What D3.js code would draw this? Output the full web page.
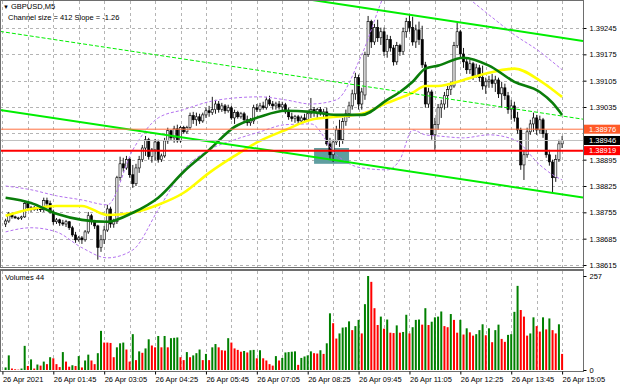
<!DOCTYPE html>
<html>
<head>
<meta charset="utf-8">
<script src="https://cdn.jsdelivr.net/npm/d3@7"></script>
<style>
  body { margin: 0; background: #fff; }
  svg text { font-family: "Liberation Sans", Arial, sans-serif; font-size: 7.5px; fill: #000; }
</style>
</head>
<body>
<svg id="chart" width="620" height="388"></svg>
<script>
// GBPUSD M5, 26 Apr 2021, first bar 00:30
var startMinute = 30, barMinutes = 5;

var open = [1.38724,1.38732,1.38751,1.38743,1.38740,1.38740,1.38743,1.38778,1.38767,1.38762,
  1.38767,1.38764,1.38762,1.38786,1.38778,1.38756,1.38730,1.38735,1.38727,1.38724,
  1.38730,1.38714,1.38695,1.38682,1.38687,1.38682,1.38703,1.38746,1.38730,1.38719,
  1.38661,1.38682,1.38708,1.38764,1.38724,1.38730,1.38847,1.38884,1.38873,1.38895,
  1.38855,1.38831,1.38873,1.38895,1.38926,1.38948,1.38903,1.38921,1.38942,1.38895,
  1.38905,1.38945,1.38972,1.38953,1.38977,1.38945,1.38980,1.38969,1.38980,1.39012,
  1.39001,1.39009,1.38998,1.39014,1.39025,1.39020,1.39028,1.39043,1.39028,1.39038,
  1.39025,1.39033,1.39006,1.39020,1.39009,1.39017,1.39001,1.38993,1.38998,1.39033,
  1.39028,1.39038,1.39033,1.39054,1.39043,1.39038,1.39043,1.39035,1.39041,1.39022,
  1.39009,1.39004,1.39009,1.38998,1.39006,1.39001,1.39017,1.39028,1.39020,1.39028,
  1.39017,1.39022,1.38937,1.38908,1.38942,1.38974,1.38948,1.38996,1.39017,1.39038,
  1.39070,1.39113,1.39043,1.39067,1.39174,1.39262,1.39208,1.39246,1.39219,1.39235,
  1.39182,1.39214,1.39192,1.39155,1.39198,1.39182,1.39235,1.39262,1.39246,1.39208,
  1.39240,1.39214,1.39147,1.39043,1.39075,1.38961,1.38988,1.39033,1.39043,1.39065,
  1.39081,1.39091,1.39198,1.39235,1.39176,1.39155,1.39134,1.39150,1.39118,1.39139,
  1.39113,1.39091,1.39102,1.39107,1.39097,1.39107,1.39070,1.39086,1.39065,1.39028,
  1.39038,1.39006,1.38974,1.38881,1.38908,1.38969,1.38990,1.39006,1.38974,1.39001,
  1.38964,1.38908,1.38889,1.38847,1.38895,1.38937];

var high = [1.38738,1.38756,1.38754,1.38746,1.38743,1.38746,1.38786,1.38783,1.38772,1.38772,
  1.38770,1.38767,1.38794,1.38794,1.38786,1.38762,1.38740,1.38738,1.38735,1.38735,
  1.38732,1.38719,1.38703,1.38692,1.38692,1.38708,1.38756,1.38751,1.38735,1.38722,
  1.38695,1.38719,1.38775,1.38770,1.38738,1.38852,1.38903,1.38900,1.38905,1.38900,
  1.38881,1.38884,1.38905,1.38934,1.38958,1.38953,1.38926,1.38950,1.38948,1.38911,
  1.38953,1.38980,1.38974,1.38985,1.38988,1.38985,1.38985,1.38985,1.39020,1.39022,
  1.39020,1.39017,1.39020,1.39033,1.39038,1.39062,1.39054,1.39051,1.39046,1.39043,
  1.39041,1.39038,1.39028,1.39025,1.39022,1.39022,1.39012,1.39006,1.39041,1.39043,
  1.39046,1.39049,1.39062,1.39065,1.39051,1.39049,1.39051,1.39049,1.39046,1.39033,
  1.39020,1.39014,1.39014,1.39012,1.39017,1.39022,1.39059,1.39035,1.39033,1.39035,
  1.39030,1.39033,1.38953,1.38948,1.38985,1.39001,1.39006,1.39028,1.39049,1.39081,
  1.39126,1.39121,1.39086,1.39182,1.39277,1.39267,1.39256,1.39267,1.39246,1.39246,
  1.39227,1.39224,1.39200,1.39208,1.39203,1.39246,1.39272,1.39280,1.39275,1.39254,
  1.39262,1.39251,1.39155,1.39086,1.39081,1.39006,1.39043,1.39054,1.39075,1.39091,
  1.39102,1.39208,1.39259,1.39240,1.39192,1.39166,1.39160,1.39155,1.39150,1.39147,
  1.39145,1.39113,1.39118,1.39123,1.39118,1.39113,1.39102,1.39097,1.39075,1.39054,
  1.39049,1.39022,1.38980,1.38921,1.38980,1.39001,1.39020,1.39014,1.39012,1.39006,
  1.38974,1.38921,1.38895,1.38908,1.38948,1.38958];

var low = [1.38716,1.38727,1.38738,1.38738,1.38735,1.38735,1.38740,1.38759,1.38756,1.38759,
  1.38759,1.38756,1.38756,1.38767,1.38751,1.38722,1.38724,1.38719,1.38719,1.38716,
  1.38708,1.38690,1.38674,1.38677,1.38671,1.38677,1.38698,1.38722,1.38711,1.38629,
  1.38650,1.38671,1.38703,1.38714,1.38714,1.38724,1.38839,1.38863,1.38868,1.38847,
  1.38820,1.38825,1.38860,1.38889,1.38905,1.38895,1.38887,1.38892,1.38887,1.38889,
  1.38900,1.38937,1.38945,1.38940,1.38940,1.38940,1.38964,1.38964,1.38974,1.38990,
  1.38985,1.38990,1.38993,1.39006,1.39009,1.39014,1.39017,1.39020,1.39022,1.39017,
  1.39020,1.39001,1.38990,1.39004,1.39004,1.38996,1.38985,1.38985,1.38990,1.39022,
  1.39022,1.39028,1.39028,1.39038,1.39028,1.39028,1.39028,1.39025,1.39017,1.39001,
  1.38996,1.38993,1.38990,1.38990,1.38993,1.38996,1.39006,1.39009,1.39006,1.39012,
  1.39006,1.38932,1.38895,1.38889,1.38934,1.38929,1.38937,1.38985,1.39006,1.39028,
  1.39054,1.39028,1.39028,1.39054,1.39168,1.39192,1.39200,1.39208,1.39200,1.39171,
  1.39166,1.39182,1.39145,1.39147,1.39171,1.39174,1.39219,1.39235,1.39198,1.39192,
  1.39200,1.39139,1.39033,1.39033,1.38948,1.38921,1.38974,1.39006,1.39028,1.39033,
  1.39067,1.39086,1.39192,1.39166,1.39139,1.39123,1.39123,1.39107,1.39113,1.39102,
  1.39081,1.39070,1.39086,1.39086,1.39075,1.39059,1.39033,1.39054,1.39017,1.39001,
  1.38996,1.38964,1.38868,1.38841,1.38900,1.38961,1.38969,1.38961,1.38964,1.38953,
  1.38900,1.38879,1.38809,1.38836,1.38889,1.38926];

var close = [1.38732,1.38751,1.38743,1.38740,1.38740,1.38743,1.38778,1.38767,1.38762,1.38767,
  1.38764,1.38762,1.38786,1.38778,1.38756,1.38730,1.38735,1.38727,1.38724,1.38730,
  1.38714,1.38695,1.38682,1.38687,1.38682,1.38703,1.38746,1.38730,1.38719,1.38661,
  1.38682,1.38708,1.38764,1.38724,1.38730,1.38847,1.38884,1.38873,1.38895,1.38855,
  1.38831,1.38873,1.38895,1.38926,1.38948,1.38903,1.38921,1.38942,1.38895,1.38905,
  1.38945,1.38972,1.38953,1.38977,1.38945,1.38980,1.38969,1.38980,1.39012,1.39001,
  1.39009,1.38998,1.39014,1.39025,1.39020,1.39028,1.39043,1.39028,1.39038,1.39025,
  1.39033,1.39006,1.39020,1.39009,1.39017,1.39001,1.38993,1.38998,1.39033,1.39028,
  1.39038,1.39033,1.39054,1.39043,1.39038,1.39043,1.39035,1.39041,1.39022,1.39009,
  1.39004,1.39009,1.38998,1.39006,1.39001,1.39017,1.39028,1.39020,1.39028,1.39017,
  1.39022,1.38937,1.38908,1.38942,1.38974,1.38948,1.38996,1.39017,1.39038,1.39070,
  1.39113,1.39043,1.39075,1.39174,1.39262,1.39208,1.39246,1.39219,1.39235,1.39182,
  1.39214,1.39192,1.39155,1.39198,1.39182,1.39235,1.39262,1.39246,1.39208,1.39240,
  1.39214,1.39147,1.39043,1.39075,1.38961,1.38988,1.39033,1.39043,1.39065,1.39081,
  1.39091,1.39198,1.39235,1.39176,1.39155,1.39134,1.39150,1.39118,1.39139,1.39113,
  1.39091,1.39102,1.39107,1.39097,1.39107,1.39070,1.39086,1.39065,1.39028,1.39038,
  1.39006,1.38974,1.38881,1.38908,1.38969,1.38990,1.39006,1.38974,1.39001,1.38964,
  1.38908,1.38889,1.38847,1.38895,1.38937,1.38946];

var volume = [7,40,4,2,1,4,66,11,29,4,
  15,12,23,16,35,32,16,8,49,23,
  9,13,11,38,7,26,42,26,16,46,
  107,75,75,74,35,62,73,75,56,23,
  98,27,51,47,59,84,67,62,93,62,
  93,62,87,88,89,35,27,49,35,40,
  46,56,27,44,27,62,71,62,54,53,
  87,75,59,55,50,52,48,54,55,32,
  54,32,26,16,12,38,26,33,48,49,
  50,51,14,33,37,40,51,46,45,54,
  44,73,155,128,86,100,116,117,133,109,
  120,137,100,180,257,241,169,123,146,113,
  138,102,101,122,102,104,151,100,117,137,
  138,124,169,123,132,144,146,160,120,117,
  153,137,102,137,97,114,103,94,98,109,
  125,95,114,76,109,124,85,77,96,98,
  159,230,164,146,94,100,144,120,105,144,
  111,141,109,100,125,44];

// indicator readings, sampled at these bar numbers
var sampleBars = [0,8,16,24,32,40,48,56,64,72,80,88,96,104,112,120,124,128,132,136,144,152,160,168,172,175];
var maFast = [1.38794,1.38780,1.38751,1.38735,1.38730,1.38754,1.38794,1.38863,1.38921,1.38982,1.39009,1.39025,1.39022,
  1.39014,1.39014,1.39054,1.39075,1.39102,1.39137,1.39145,1.39166,1.39145,1.39102,1.39075,1.39046,1.39014];
var maSlow = [1.38746,1.38764,1.38772,1.38772,1.38748,1.38754,1.38775,1.38807,1.38860,1.38905,1.38945,1.38974,1.39001,
  1.39009,1.39017,1.39046,1.39059,1.39073,1.39091,1.39091,1.39107,1.39126,1.39137,1.39105,1.39081,1.39062];
var bandUpper = [1.38825,1.38815,1.38799,1.38788,1.38775,1.38921,1.39006,1.39028,1.39049,1.39059,1.39062,1.39054,1.39043,
  1.39054,1.39174,1.39347,1.39386,1.39400,1.39400,1.39373,1.39333,1.39280,1.39227,1.39182,1.39155,1.39134];
var bandLower = [1.38703,1.38714,1.38703,1.38661,1.38634,1.38655,1.38762,1.38868,1.38921,1.38948,1.38969,1.38988,1.38990,
  1.38908,1.38873,1.38868,1.38895,1.38974,1.38961,1.38958,1.38953,1.38961,1.38948,1.38881,1.38855,1.38841];

// channel object: two anchor times and prices for each line
var channelTimes = ["00:25", "15:05"];
var channelUpper = [1.39444, 1.39219];
var channelMid = [1.39235, 1.39011];
var channelLower = [1.39026, 1.38803];

var levelOrange = 1.38976, levelBid = 1.38946, levelRed = 1.38919;
var boxTimes = ["08:35", "09:30"], boxPrices = [1.38926, 1.38884];

var priceTicks = [1.39245,1.39175,1.39105,1.39035,1.38965,1.38895,1.38825,1.38755,1.38685,1.38615];
var hiddenTick = 1.38965; // covered by the price tags on the scale
var gridTimes = ["00:25","01:05","01:45","02:25","03:05","03:45","04:25","05:05","05:45","06:25","07:05","07:45",
  "08:25","09:05","09:45","10:25","11:05","11:45","12:25","13:05","13:45","14:25","15:05"];
var labelTimes = ["00:25","01:45","03:05","04:25","05:45","07:05","08:25","09:45","11:05","12:25","13:45","15:05"];
var labelTexts = ["26 Apr 2021","26 Apr 01:45","26 Apr 03:05","26 Apr 04:25","26 Apr 05:45","26 Apr 07:05",
  "26 Apr 08:25","26 Apr 09:45","26 Apr 11:05","26 Apr 12:25","26 Apr 13:45","26 Apr 15:05"];

function barOf(t) {
  var p = t.split(":");
  return (+p[0] * 60 + +p[1] - startMinute) / barMinutes;
}

var svg = d3.select("#chart");
var main = {left: 0, right: 583, top: 1, bottom: 267};
var vol = {top: 271, bottom: 371};

var x = d3.scaleLinear().domain([0, 175]).range([5.6, 562.1]);
var y = d3.scaleLinear().domain([1.38615, 1.39245]).range([265, 28]);
var yv = d3.scaleLinear().domain([0, 257]).range([370, 276]);

svg.append("rect").attr("width", 620).attr("height", 388).attr("fill", "#fff");

var defs = svg.append("defs");
defs.append("clipPath").attr("id", "clipMain").append("rect")
  .attr("x", main.left).attr("y", main.top).attr("width", main.right - main.left).attr("height", main.bottom - main.top);
defs.append("clipPath").attr("id", "clipVol").append("rect")
  .attr("x", main.left).attr("y", vol.top).attr("width", main.right - main.left).attr("height", vol.bottom - vol.top);

// grid
var grid = svg.append("g").attr("stroke", "#b4b4b4").attr("stroke-dasharray", "3,3").attr("stroke-width", 1);
grid.selectAll(".gy").data(priceTicks).enter().append("line")
  .attr("x1", main.left).attr("x2", main.right)
  .attr("y1", function(d) { return Math.round(y(d)) + 0.5; })
  .attr("y2", function(d) { return Math.round(y(d)) + 0.5; });
grid.selectAll(".gx").data(gridTimes).enter().append("line")
  .attr("x1", function(d) { return Math.round(x(barOf(d))) + 0.5; })
  .attr("x2", function(d) { return Math.round(x(barOf(d))) + 0.5; })
  .attr("y1", main.top).attr("y2", main.bottom);
grid.selectAll(".gv").data(gridTimes).enter().append("line")
  .attr("x1", function(d) { return Math.round(x(barOf(d))) + 0.5; })
  .attr("x2", function(d) { return Math.round(x(barOf(d))) + 0.5; })
  .attr("y1", vol.top).attr("y2", vol.bottom);

var g = svg.append("g").attr("clip-path", "url(#clipMain)");

// rectangle object behind the bars
g.append("rect")
  .attr("x", x(barOf(boxTimes[0])))
  .attr("y", y(boxPrices[0]))
  .attr("width", x(barOf(boxTimes[1])) - x(barOf(boxTimes[0])))
  .attr("height", y(boxPrices[1]) - y(boxPrices[0]))
  .attr("fill", "#5f9ea0");

// candles
var bars = d3.range(open.length);
g.append("g").selectAll("line").data(bars).enter().append("line")
  .attr("x1", function(i) { return x(i); }).attr("x2", function(i) { return x(i); })
  .attr("y1", function(i) { return y(high[i]); }).attr("y2", function(i) { return y(low[i]); })
  .attr("stroke", "#000").attr("stroke-width", 0.9);
g.append("g").selectAll("rect").data(bars).enter().append("rect")
  .attr("x", function(i) { return x(i) - 1.1; })
  .attr("width", 2.2)
  .attr("y", function(i) { return y(Math.max(open[i], close[i])); })
  .attr("height", function(i) { return Math.max(0.8, Math.abs(y(open[i]) - y(close[i]))); })
  .attr("fill", function(i) { return close[i] >= open[i] ? "#f2f2f2" : "#000"; })
  .attr("stroke", "#000").attr("stroke-width", 0.6);

// bands and moving averages
function series(vals) {
  return d3.line().curve(d3.curveMonotoneX)
    .x(function(d, k) { return x(sampleBars[k]); })
    .y(function(d) { return y(d); })(vals);
}
g.append("path").attr("d", series(bandUpper)).attr("fill", "none")
  .attr("stroke", "#b473f0").attr("stroke-width", 1).attr("stroke-dasharray", "3,2");
g.append("path").attr("d", series(bandLower)).attr("fill", "none")
  .attr("stroke", "#b473f0").attr("stroke-width", 1).attr("stroke-dasharray", "3,2");
g.append("path").attr("d", series(maSlow)).attr("fill", "none")
  .attr("stroke", "#ffff00").attr("stroke-width", 2.6);
g.append("path").attr("d", series(maFast)).attr("fill", "none")
  .attr("stroke", "#0a7d0a").attr("stroke-width", 2.6);

// channel lines, extended across the pane
function channel(prices, dash, w) {
  var s = d3.scaleLinear().domain([barOf(channelTimes[0]), barOf(channelTimes[1])]).range(prices);
  var b0 = x.invert(main.left), b1 = x.invert(main.right);
  g.append("line")
    .attr("x1", x(b0)).attr("y1", y(s(b0)))
    .attr("x2", x(b1)).attr("y2", y(s(b1)))
    .attr("stroke", "#00ee00").attr("stroke-width", w)
    .attr("stroke-dasharray", dash);
}
channel(channelUpper, null, 2);
channel(channelLower, null, 2);
channel(channelMid, "4,2", 1);

// horizontal levels
g.append("line").attr("x1", main.left).attr("x2", main.right)
  .attr("y1", y(levelBid)).attr("y2", y(levelBid)).attr("stroke", "#c0c0c0").attr("stroke-width", 1);
g.append("line").attr("x1", main.left).attr("x2", main.right)
  .attr("y1", y(levelOrange)).attr("y2", y(levelOrange)).attr("stroke", "#ff7040").attr("stroke-width", 1);
g.append("line").attr("x1", main.left).attr("x2", main.right)
  .attr("y1", y(levelRed)).attr("y2", y(levelRed)).attr("stroke", "#ff0000").attr("stroke-width", 2);

// volumes
svg.append("g").attr("clip-path", "url(#clipVol)").selectAll("rect").data(bars).enter().append("rect")
  .attr("x", function(i) { return x(i) - 1; })
  .attr("width", 2)
  .attr("y", function(i) { return yv(volume[i]); })
  .attr("height", function(i) { return yv(0) - yv(volume[i]); })
  .attr("fill", function(i) { return i === 0 || volume[i] > volume[i - 1] ? "#008000" : "#ff0000"; });

// pane frames
svg.append("rect").attr("x", main.left + 0.5).attr("y", main.top - 0.5)
  .attr("width", main.right - main.left).attr("height", main.bottom - main.top + 1)
  .attr("fill", "none").attr("stroke", "#6e6e6e");
svg.append("rect").attr("x", main.left + 0.5).attr("y", vol.top - 0.5)
  .attr("width", main.right - main.left).attr("height", vol.bottom - vol.top + 1)
  .attr("fill", "none").attr("stroke", "#6e6e6e");
svg.append("line").attr("x1", main.left).attr("x2", main.right + 1)
  .attr("y1", vol.top - 1.5).attr("y2", vol.top - 1.5).attr("stroke", "#6e6e6e");

// price axis (the tick under the price tags keeps its grid line but no label)
var yAxis = svg.append("g").attr("transform", "translate(" + (main.right + 0.5) + ",0)")
  .call(d3.axisRight(y).tickValues(priceTicks.filter(function(d) { return d !== hiddenTick; }))
    .tickFormat(d3.format(".5f")).tickSize(3).tickPadding(3));
yAxis.select(".domain").remove();
yAxis.selectAll("text").attr("font-size", null).attr("font-family", null);

var vAxis = svg.append("g").attr("transform", "translate(" + (main.right + 0.5) + ",0)")
  .call(d3.axisRight(yv).tickValues([0, 257]).tickSize(3).tickPadding(3));
vAxis.select(".domain").remove();
vAxis.selectAll("text").attr("font-size", null).attr("font-family", null);

// time axis
var xAxis = svg.append("g").attr("transform", "translate(0," + (vol.bottom + 0.5) + ")")
  .call(d3.axisBottom(x).tickValues(labelTimes.map(barOf))
    .tickFormat(function(d, i) { return labelTexts[i]; }).tickSize(3).tickPadding(2));
xAxis.select(".domain").remove();
xAxis.selectAll("text").attr("text-anchor", "start").attr("x", 0).attr("font-size", null).attr("font-family", null);

// price tags on the scale
function priceTag(p, color) {
  var t = svg.append("g").attr("transform", "translate(" + (main.right + 1) + "," + y(p) + ")");
  t.append("rect").attr("x", 0).attr("y", -4.5).attr("width", 36).attr("height", 9).attr("fill", color);
  t.append("text").attr("x", 5).attr("y", 2.7).style("fill", "#fff").text(d3.format(".5f")(p));
}
priceTag(levelOrange, "#ff5a28");
priceTag(levelBid, "#000");
priceTag(levelRed, "#ff0000");

// captions
svg.append("text").attr("x", 3).attr("y", 9).style("font-size", "6px").text("\u25BC");
svg.append("text").attr("x", 11).attr("y", 9).text("GBPUSD,M5");
svg.append("text").attr("x", 8).attr("y", 19.5).text("Channel size = 412 Slope = -1.26");
svg.append("text").attr("x", 5).attr("y", vol.top + 9).text("Volumes 44");
</script>
</body>
</html>
